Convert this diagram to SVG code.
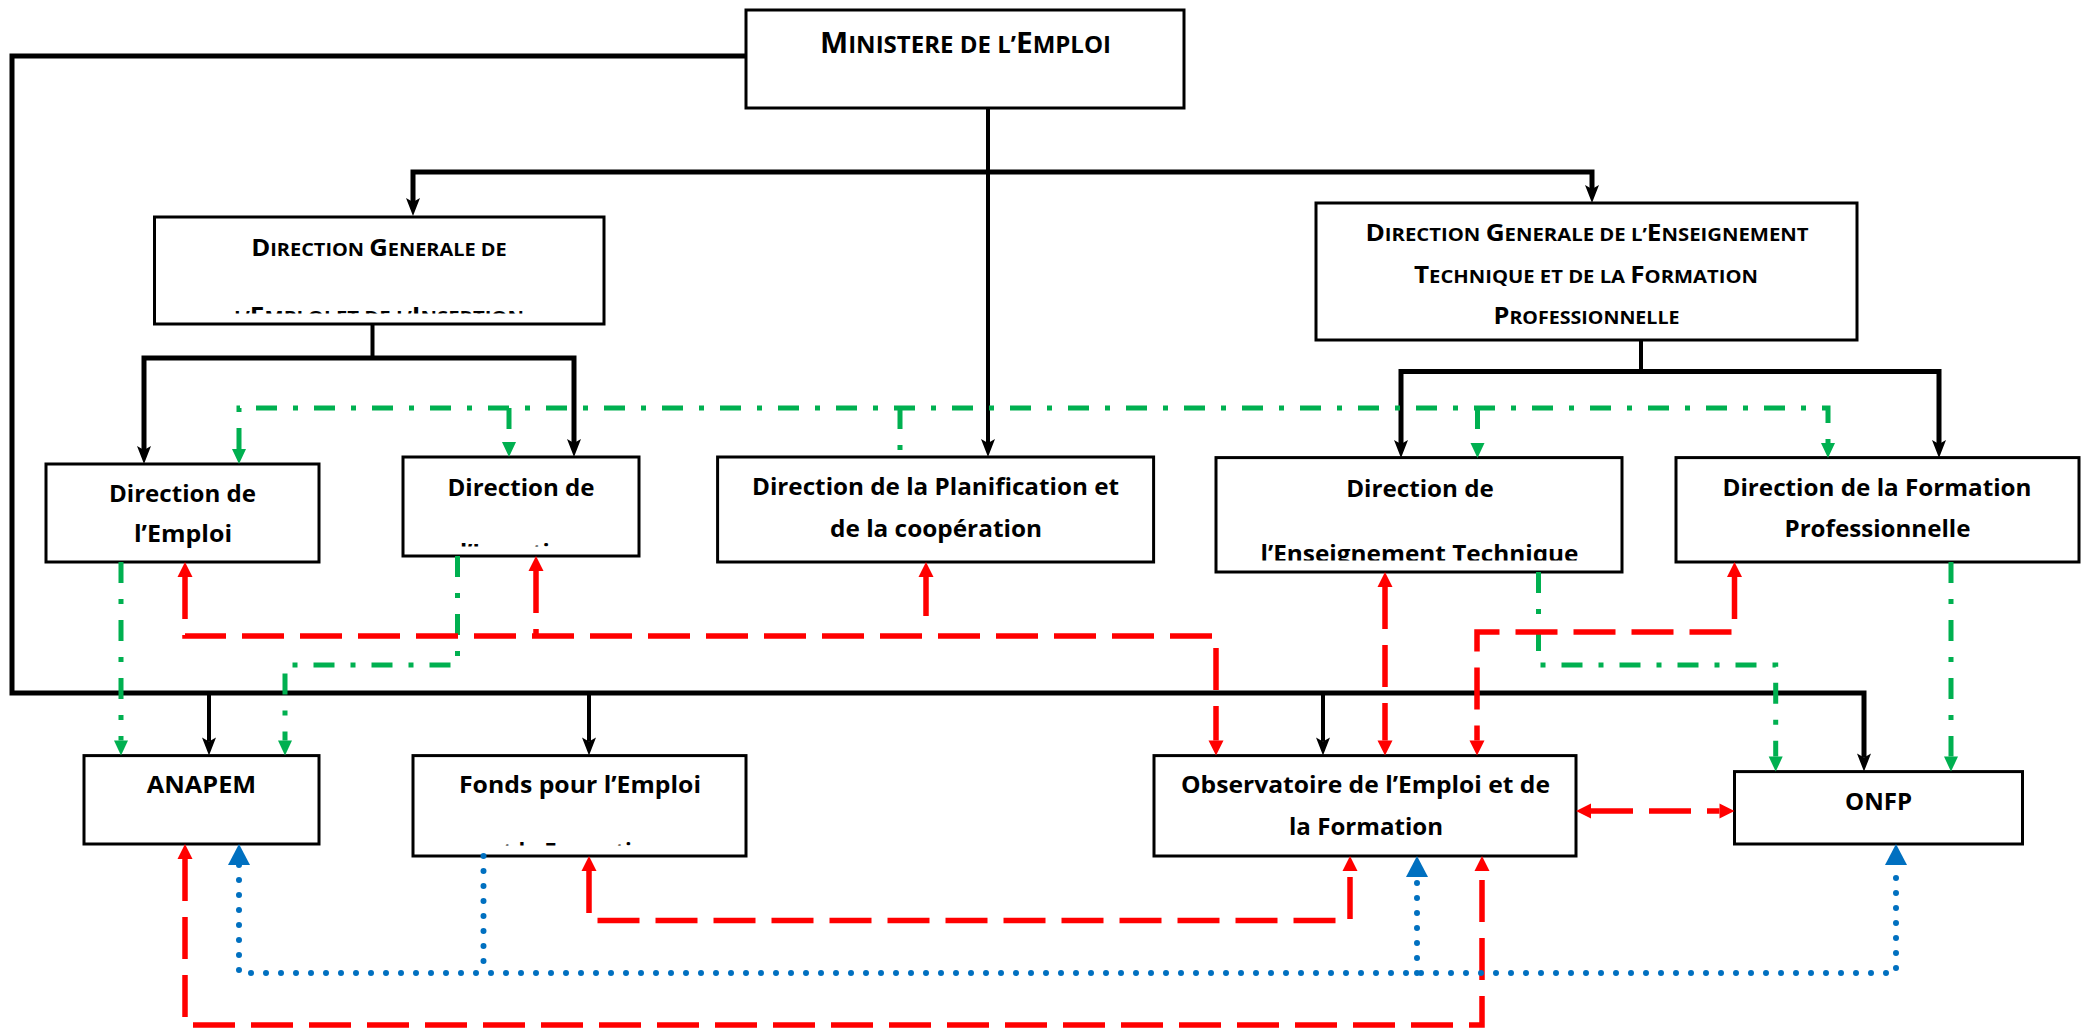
<svg xmlns="http://www.w3.org/2000/svg" width="2087" height="1029" viewBox="0 0 2087 1029">
<style>
.box{fill:#fff;stroke:#000;stroke-width:3}
.t{font-family:"Open Sans","Liberation Sans",sans-serif;font-weight:700;font-size:24px;fill:#000;text-anchor:middle}
.bg{font-size:24px}
.sm{font-size:18.6px}
.k{fill:none;stroke:#000;stroke-width:5}
.kv{fill:none;stroke:#000;stroke-width:4}
.r{fill:none;stroke:#FF0000;stroke-width:5.5;stroke-dasharray:42 16}
.g{fill:none;stroke:#00B050;stroke-width:5;stroke-dasharray:21 16 5 16}
.b{fill:none;stroke:#0070C0;stroke-width:6;stroke-dasharray:0 15;stroke-linecap:round}
</style>
<defs>
<marker id="ak" markerUnits="userSpaceOnUse" markerWidth="40" markerHeight="40" refX="0" refY="0" orient="auto-start-reverse" overflow="visible"><path d="M-4,-7 L14,0 L-4,7 L0,0 Z" fill="#000"/></marker>
<marker id="ag" markerUnits="userSpaceOnUse" markerWidth="40" markerHeight="40" refX="0" refY="0" orient="auto-start-reverse" overflow="visible"><path d="M0,-7 L15,0 L0,7 Z" fill="#00B050"/></marker>
<marker id="ar" markerUnits="userSpaceOnUse" markerWidth="40" markerHeight="40" refX="0" refY="0" orient="auto-start-reverse" overflow="visible"><path d="M0,-7.5 L15,0 L0,7.5 Z" fill="#FF0000"/></marker>
<marker id="ab" markerUnits="userSpaceOnUse" markerWidth="40" markerHeight="40" refX="0" refY="0" orient="auto-start-reverse" overflow="visible"><path d="M0,-11 L21,0 L0,11 Z" fill="#0070C0"/></marker>
<clipPath id="cDGE"><rect x="154" y="217" width="450" height="96.5"/></clipPath>
<clipPath id="cIns"><rect x="403" y="457" width="236" height="89.5"/></clipPath>
<clipPath id="cEns"><rect x="1216" y="457" width="406" height="103.6"/></clipPath>
<clipPath id="cFonds"><rect x="413" y="755" width="333" height="90.5"/></clipPath>
</defs>
<rect width="2087" height="1029" fill="#fff"/>

<g id="ministere">
<rect class="box" x="746" y="10" width="438" height="98"/>
<text class="t" x="965.5" y="53" textLength="291" lengthAdjust="spacingAndGlyphs"><tspan style="font-size:29px">M</tspan><tspan style="font-size:23.3px">INISTERE DE L’</tspan><tspan style="font-size:29px">E</tspan><tspan style="font-size:23.3px">MPLOI</tspan></text>
</g>

<g id="dg-emploi">
<rect class="box" x="154.5" y="217" width="449.5" height="107"/>
<text class="t" x="379" y="256" textLength="255.5" lengthAdjust="spacingAndGlyphs"><tspan class="bg">D</tspan><tspan class="sm">IRECTION </tspan><tspan class="bg">G</tspan><tspan class="sm">ENERALE DE</tspan></text>
<text class="t" x="379" y="324" textLength="290" lengthAdjust="spacingAndGlyphs" clip-path="url(#cDGE)"><tspan class="sm">L’</tspan><tspan class="bg">E</tspan><tspan class="sm">MPLOI ET DE L’</tspan><tspan class="bg">I</tspan><tspan class="sm">NSERTION</tspan></text>
</g>

<g id="dg-enseignement">
<rect class="box" x="1316" y="203" width="541" height="137"/>
<text class="t" x="1587" y="241" textLength="443" lengthAdjust="spacingAndGlyphs"><tspan class="bg">D</tspan><tspan class="sm">IRECTION </tspan><tspan class="bg">G</tspan><tspan class="sm">ENERALE DE L’</tspan><tspan class="bg">E</tspan><tspan class="sm">NSEIGNEMENT</tspan></text>
<text class="t" x="1586" y="283" textLength="344" lengthAdjust="spacingAndGlyphs"><tspan class="bg">T</tspan><tspan class="sm">ECHNIQUE ET DE LA </tspan><tspan class="bg">F</tspan><tspan class="sm">ORMATION</tspan></text>
<text class="t" x="1586.5" y="324" textLength="186" lengthAdjust="spacingAndGlyphs"><tspan class="bg">P</tspan><tspan class="sm">ROFESSIONNELLE</tspan></text>
</g>

<g id="dir-emploi">
<rect class="box" x="46" y="464" width="273" height="98"/>
<text class="t" x="182.5" y="501.5" textLength="147" lengthAdjust="spacingAndGlyphs">Direction de</text>
<text class="t" x="183" y="541.5" textLength="98" lengthAdjust="spacingAndGlyphs">l’Emploi</text>
</g>

<g id="dir-insertion">
<rect class="box" x="403" y="457" width="236" height="99"/>
<text class="t" x="521" y="496" textLength="147" lengthAdjust="spacingAndGlyphs">Direction de</text>
<text class="t" x="520" y="561" textLength="120" lengthAdjust="spacingAndGlyphs" clip-path="url(#cIns)">l’Insertion</text>
</g>

<g id="dir-planification">
<rect class="box" x="717.6" y="457" width="436" height="105"/>
<text class="t" x="935.5" y="495" textLength="367" lengthAdjust="spacingAndGlyphs">Direction de la Planification et</text>
<text class="t" x="936" y="536.5" textLength="212" lengthAdjust="spacingAndGlyphs">de la coopération</text>
</g>

<g id="dir-enseignement">
<rect class="box" x="1216" y="457.6" width="406" height="114.4"/>
<text class="t" x="1420" y="496.6" textLength="147.6" lengthAdjust="spacingAndGlyphs">Direction de</text>
<text class="t" x="1419.5" y="562.3" textLength="318" lengthAdjust="spacingAndGlyphs" clip-path="url(#cEns)">l’Enseignement Technique</text>
</g>

<g id="dir-formation">
<rect class="box" x="1676" y="457.6" width="403" height="104.4"/>
<text class="t" x="1877" y="496" textLength="309" lengthAdjust="spacingAndGlyphs">Direction de la Formation</text>
<text class="t" x="1877.5" y="536.6" textLength="186" lengthAdjust="spacingAndGlyphs">Professionnelle</text>
</g>

<g id="anapem">
<rect class="box" x="84" y="755.6" width="235" height="88.4"/>
<text class="t" x="201.5" y="793" textLength="109.4" lengthAdjust="spacingAndGlyphs">ANAPEM</text>
</g>

<g id="fonds">
<rect class="box" x="413" y="755.6" width="333" height="100.4"/>
<text class="t" x="580" y="793" textLength="242" lengthAdjust="spacingAndGlyphs">Fonds pour l’Emploi</text>
<text class="t" x="575" y="860" textLength="170" lengthAdjust="spacingAndGlyphs" clip-path="url(#cFonds)">et la Formation</text>
</g>

<g id="observatoire">
<rect class="box" x="1154" y="755.6" width="422" height="100.4"/>
<text class="t" x="1365.5" y="793" textLength="369" lengthAdjust="spacingAndGlyphs">Observatoire de l’Emploi et de</text>
<text class="t" x="1366" y="835" textLength="154" lengthAdjust="spacingAndGlyphs">la Formation</text>
</g>

<g id="onfp">
<rect class="box" x="1734.5" y="771.6" width="288" height="72.4"/>
<text class="t" x="1878.5" y="810" textLength="67" lengthAdjust="spacingAndGlyphs">ONFP</text>
</g>

<g id="connectors">
<path class="k" d="M745,56 H12 V693 H1864 V757.6" marker-end="url(#ak)"/>
<path class="kv" d="M988,108 V443" marker-end="url(#ak)"/>
<path class="k" d="M413,202 V172 H1592 V189" marker-start="url(#ak)" marker-end="url(#ak)"/>
<path class="kv" d="M372.5,324 V358"/>
<path class="k" d="M144,450 V358 H574 V443" marker-start="url(#ak)" marker-end="url(#ak)"/>
<path class="kv" d="M1641,340 V371.5"/>
<path class="k" d="M1401,444 V371.5 H1939 V444" marker-start="url(#ak)" marker-end="url(#ak)"/>
<path class="kv" d="M209,693 V741.6" marker-end="url(#ak)"/>
<path class="kv" d="M589,693 V741.6" marker-end="url(#ak)"/>
<path class="kv" d="M1323,693 V741.6" marker-end="url(#ak)"/>

<path class="g" d="M239,449 V408 H1828 V443" marker-start="url(#ag)" marker-end="url(#ag)"/>
<path class="g" d="M509,408 V442" marker-end="url(#ag)"/>
<path class="g" d="M900,408 V450"/>
<path class="g" d="M1477.5,408 V443" marker-end="url(#ag)"/>
<path class="g" d="M121,562 V740.6" marker-end="url(#ag)"/>
<path class="g" d="M457.5,556 V665 H285 V740.6" marker-end="url(#ag)"/>
<path class="g" d="M1538.5,572 V665 H1775.7 V756.6" marker-end="url(#ag)"/>
<path class="g" d="M1951,562 V756.6" marker-end="url(#ag)"/>

<path class="r" d="M185,577 V636 H1216 V740.6" marker-start="url(#ar)" marker-end="url(#ar)"/>
<path class="r" d="M536,571 V636" marker-start="url(#ar)"/>
<path class="r" d="M926,577 V616" marker-start="url(#ar)"/>
<path class="r" d="M1385,587 V740.6" marker-start="url(#ar)" marker-end="url(#ar)"/>
<path class="r" d="M1734.5,577 V632 H1477 V740.6" marker-start="url(#ar)" marker-end="url(#ar)"/>
<path class="r" d="M1591,811 H1719.5" marker-start="url(#ar)" marker-end="url(#ar)"/>
<path class="r" d="M589,871 V920.5 H1350 V871" marker-start="url(#ar)" marker-end="url(#ar)"/>
<path class="r" d="M185,859 V1025 H1482 V871" marker-start="url(#ar)" marker-end="url(#ar)"/>

<path class="b" d="M239,865 V973 H1896 V865" marker-start="url(#ab)" marker-end="url(#ab)"/>
<path class="b" d="M483.5,856 V973"/>
<path class="b" d="M1417,973 V877" marker-end="url(#ab)"/>
</g>
</svg>
